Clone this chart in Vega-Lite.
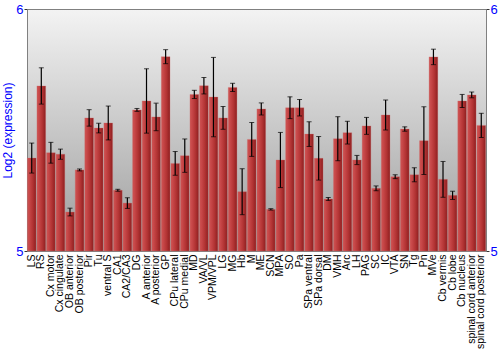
{
  "$schema": "https://vega.github.io/schema/vega-lite/v6.json",
  "width": 459,
  "height": 242,
  "autosize": {"type": "none"},
  "padding": {"left": 27, "top": 9, "right": 14, "bottom": 99},
  "background": "white",
  "config": {
    "view": {
      "stroke": "#808080",
      "fill": {"gradient": "linear", "x1": 0, "y1": 0, "x2": 0, "y2": 1,
        "stops": [{"offset": 0, "color": "#f3f3f3"}, {"offset": 1, "color": "#9c9c9c"}]}
    },
    "font": "Liberation Sans",
    "axis": {"domainColor": "#808080", "grid": false}
  },
  "data": {"values": [
    {"r": "LS", "v": 5.384, "e": 0.062},
    {"r": "RS", "v": 5.682, "e": 0.075},
    {"r": "Cx motor", "v": 5.406, "e": 0.043},
    {"r": "Cx cingulate", "v": 5.400, "e": 0.021},
    {"r": "OB anterior", "v": 5.161, "e": 0.016},
    {"r": "OB posterior", "v": 5.335, "e": 0.004},
    {"r": "Pir", "v": 5.550, "e": 0.034},
    {"r": "Tu", "v": 5.508, "e": 0.020},
    {"r": "ventral S", "v": 5.529, "e": 0.070},
    {"r": "CA1", "v": 5.251, "e": 0.004},
    {"r": "CA2/CA3", "v": 5.198, "e": 0.022},
    {"r": "DG", "v": 5.583, "e": 0.006},
    {"r": "A anterior", "v": 5.620, "e": 0.133},
    {"r": "A posterior", "v": 5.554, "e": 0.057},
    {"r": "GP", "v": 5.803, "e": 0.029},
    {"r": "CPu lateral", "v": 5.362, "e": 0.049},
    {"r": "CPu medial", "v": 5.394, "e": 0.069},
    {"r": "MD", "v": 5.647, "e": 0.017},
    {"r": "VA/VL", "v": 5.683, "e": 0.034},
    {"r": "VPM/VPL", "v": 5.636, "e": 0.164},
    {"r": "LG", "v": 5.550, "e": 0.047},
    {"r": "MG", "v": 5.676, "e": 0.017},
    {"r": "Hb", "v": 5.245, "e": 0.095},
    {"r": "M", "v": 5.461, "e": 0.070},
    {"r": "ME", "v": 5.587, "e": 0.025},
    {"r": "SCN", "v": 5.172, "e": 0.003},
    {"r": "MPA", "v": 5.376, "e": 0.114},
    {"r": "SO", "v": 5.592, "e": 0.045},
    {"r": "Pa", "v": 5.592, "e": 0.034},
    {"r": "SPa ventral", "v": 5.483, "e": 0.051},
    {"r": "SPa dorsal", "v": 5.383, "e": 0.090},
    {"r": "DM", "v": 5.215, "e": 0.006},
    {"r": "VMH", "v": 5.464, "e": 0.091},
    {"r": "Arc", "v": 5.489, "e": 0.047},
    {"r": "LH", "v": 5.376, "e": 0.019},
    {"r": "PAG", "v": 5.517, "e": 0.035},
    {"r": "SC", "v": 5.259, "e": 0.010},
    {"r": "IC", "v": 5.562, "e": 0.062},
    {"r": "VTA", "v": 5.307, "e": 0.008},
    {"r": "SN", "v": 5.504, "e": 0.009},
    {"r": "Tg", "v": 5.315, "e": 0.029},
    {"r": "Pn", "v": 5.456, "e": 0.140},
    {"r": "MVe", "v": 5.802, "e": 0.032},
    {"r": "Cb vermis", "v": 5.296, "e": 0.074},
    {"r": "Cb lobe", "v": 5.230, "e": 0.017},
    {"r": "Cb nucleus", "v": 5.620, "e": 0.027},
    {"r": "spinal cord anterior", "v": 5.645, "e": 0.012},
    {"r": "spinal cord posterior", "v": 5.519, "e": 0.050}
  ]},
  "encoding": {
    "x": {"field": "r", "type": "nominal", "sort": null,
      "scale": {"paddingInner": 0.09, "paddingOuter": 0.04},
      "axis": {"title": null, "labelAngle": -90, "ticks": false, "labelPadding": 3,
        "labelFontSize": 10.5, "labelColor": "#000000", "labelFont": "Liberation Sans"}}
  },
  "layer": [
    {
      "mark": {"type": "bar",
        "fill": {"gradient": "linear", "x1": 0, "y1": 0, "x2": 1, "y2": 0,
          "stops": [{"offset": 0, "color": "#cc5452"}, {"offset": 0.2, "color": "#c9494a"},
                    {"offset": 0.6, "color": "#b33434"}, {"offset": 1, "color": "#8e1f20"}]},
        "stroke": "#d06a6a", "strokeWidth": 0.5, "strokeOpacity": 0.6},
      "encoding": {
        "y": {"field": "v", "type": "quantitative",
          "scale": {"domain": [5, 6], "zero": false, "nice": false},
          "axis": {"orient": "left", "values": [5, 6], "format": "d", "title": "Log2 (expression)",
            "titleColor": "#0000ff", "titleFontSize": 12, "titleFontWeight": "normal",
            "titleFont": "Liberation Sans", "titlePadding": 1,
            "labelColor": "#0000ff", "labelFontSize": 13, "labelFont": "Liberation Sans",
            "tickSize": 3, "tickColor": "#333333", "labelPadding": 1}},
        "y2": {"datum": 5}
      }
    },
    {
      "mark": {"type": "errorbar", "ticks": {"size": 5, "color": "#000000", "strokeWidth": 1.2},
        "rule": {"color": "#000000", "strokeWidth": 1.2}},
      "encoding": {
        "y": {"field": "v", "type": "quantitative",
          "scale": {"domain": [5, 6], "zero": false, "nice": false},
          "axis": {"orient": "right", "values": [5, 6], "format": "d", "title": null,
            "labelColor": "#0000ff", "labelFontSize": 13, "labelFont": "Liberation Sans",
            "tickSize": 3, "tickColor": "#333333", "labelPadding": 1}},
        "yError": {"field": "e"}
      }
    }
  ],
  "resolve": {"axis": {"y": "independent"}}
}
